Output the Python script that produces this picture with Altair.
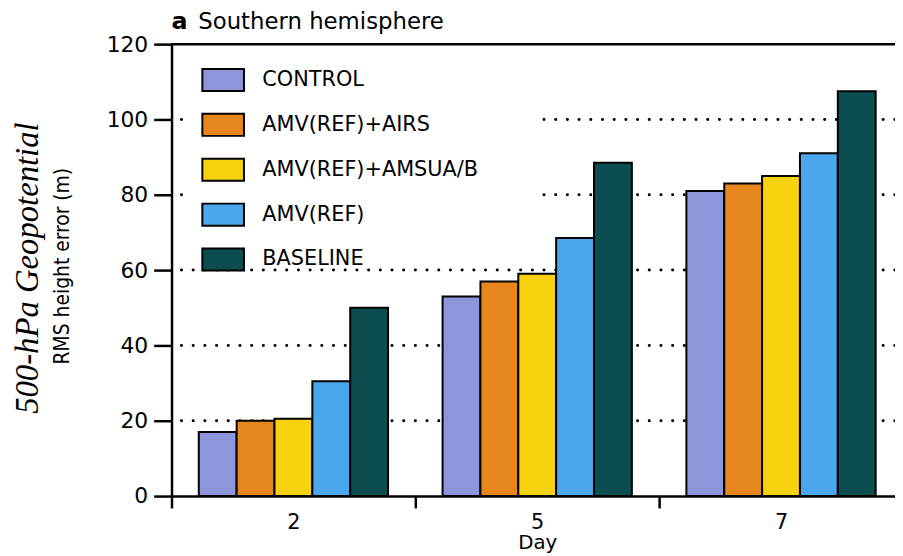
import altair as alt
import pandas as pd

days = ["2", "5", "7"]
series = ["CONTROL", "AMV(REF)+AIRS", "AMV(REF)+AMSUA/B", "AMV(REF)", "BASELINE"]
colors = ["#8E96DB", "#E8861E", "#F8D10F", "#4AA7EB", "#0C4D50"]
control = [17, 53, 81]
amv_airs = [20, 57, 83]
amv_amsua = [20.5, 59, 85]
amv_ref = [30.5, 68.5, 91]
baseline = [50, 88.5, 107.5]
grid_values = [20, 40, 60, 80, 100]
y_ticks = [0, 20, 40, 60, 80, 100, 120]
frame_top = [120]

series_values = [control, amv_airs, amv_amsua, amv_ref, baseline]
rows = []
for s, vals in zip(series, series_values):
    for d, v in zip(days, vals):
        rows.append({"day": d, "series": s, "value": v})
df = pd.DataFrame(rows)

SANS = "DejaVu Sans"
W = 738

yscale = alt.Scale(domain=[0, 120], nice=False, zero=True)
xscale = alt.Scale(domain=days, paddingInner=0, paddingOuter=0)

grid = alt.Chart(pd.DataFrame({"value": grid_values})).mark_rule(
    color="black", strokeWidth=3, strokeDash=[0.1, 11.7], strokeCap="round"
).encode(y=alt.Y("value:Q", scale=yscale), x=alt.value(10), x2=alt.value(W))

top = alt.Chart(pd.DataFrame({"value": frame_top})).mark_rule(
    color="black", strokeWidth=2.5
).encode(y=alt.Y("value:Q", scale=yscale), x=alt.value(0), x2=alt.value(W))

cover = alt.Chart(pd.DataFrame({"value": [0]})).mark_rect(color="white").encode(
    x=alt.value(15), x2=alt.value(370), y=alt.value(8), y2=alt.value(218)
)

bars = alt.Chart(df).mark_bar(stroke="black", strokeWidth=2, opacity=1).encode(
    x=alt.X("day:N", scale=xscale, sort=days,
            axis=alt.Axis(title="Day", labelAngle=0, tickBand="extent", tickSize=12,
                          labelPadding=4, titlePadding=0, labelFontSize=21,
                          titleFontSize=20, labelFont=SANS, titleFont=SANS,
                          titleFontWeight="normal")),
    xOffset=alt.XOffset("series:N", sort=series,
                        scale=alt.Scale(domain=series, paddingInner=0, paddingOuter=0.72)),
    y=alt.Y("value:Q", scale=yscale,
            axis=alt.Axis(values=y_ticks, title=None, tickSize=18, labelPadding=6,
                          labelFontSize=22, labelFont=SANS)),
    color=alt.Color("series:N", sort=series, scale=alt.Scale(domain=series, range=colors),
                    legend=alt.Legend(orient="none", legendX=22.6, legendY=6.65, title=None,
                                      symbolType="M-1.7,-0.9H1.7V0.9H-1.7Z", symbolSize=610,
                                      symbolStrokeColor="black", symbolStrokeWidth=2,
                                      symbolOpacity=1, labelFont=SANS, labelFontSize=21,
                                      labelColor="black", rowPadding=14.3, labelOffset=26,
                                      padding=16, labelLimit=400)),
)

t_a = alt.Chart(pd.DataFrame({"value": [0]})).mark_text(
    text="a", font=SANS, fontSize=24, fontWeight="bold", align="left", baseline="alphabetic"
).encode(x=alt.value(0), y=alt.value(-15))

t_title = alt.Chart(pd.DataFrame({"value": [0]})).mark_text(
    text="Southern hemisphere", font=SANS, fontSize=23, align="left", baseline="alphabetic"
).encode(x=alt.value(27), y=alt.value(-15))

t_y1 = alt.Chart(pd.DataFrame({"value": [0]})).mark_text(
    text="500-hPa Geopotential", font="Liberation Serif", fontStyle="italic", fontSize=33,
    angle=270, align="center", baseline="middle"
).encode(x=alt.value(-145), y=alt.value(226))

t_y2 = alt.Chart(pd.DataFrame({"value": [0]})).mark_text(
    text="RMS height error (m)", font="Liberation Sans Narrow, DejaVu Sans Condensed, Liberation Sans",
    fontSize=21, angle=270, align="center", baseline="middle"
).encode(x=alt.value(-109), y=alt.value(224))

chart = alt.layer(grid, top, cover, bars, t_a, t_title, t_y1, t_y2).properties(
    width=W, height=456,
    autosize=alt.AutoSizeParams(type="none"),
    padding={"left": 165, "top": 34, "right": -8, "bottom": 56},
).configure_axis(
    domainColor="black", domainWidth=2.5, tickColor="black", tickWidth=2.5,
    labelColor="black", titleColor="black", grid=False
).configure_view(stroke=None)

chart.save("out.html", embed_options={"renderer": "svg", "actions": False})
